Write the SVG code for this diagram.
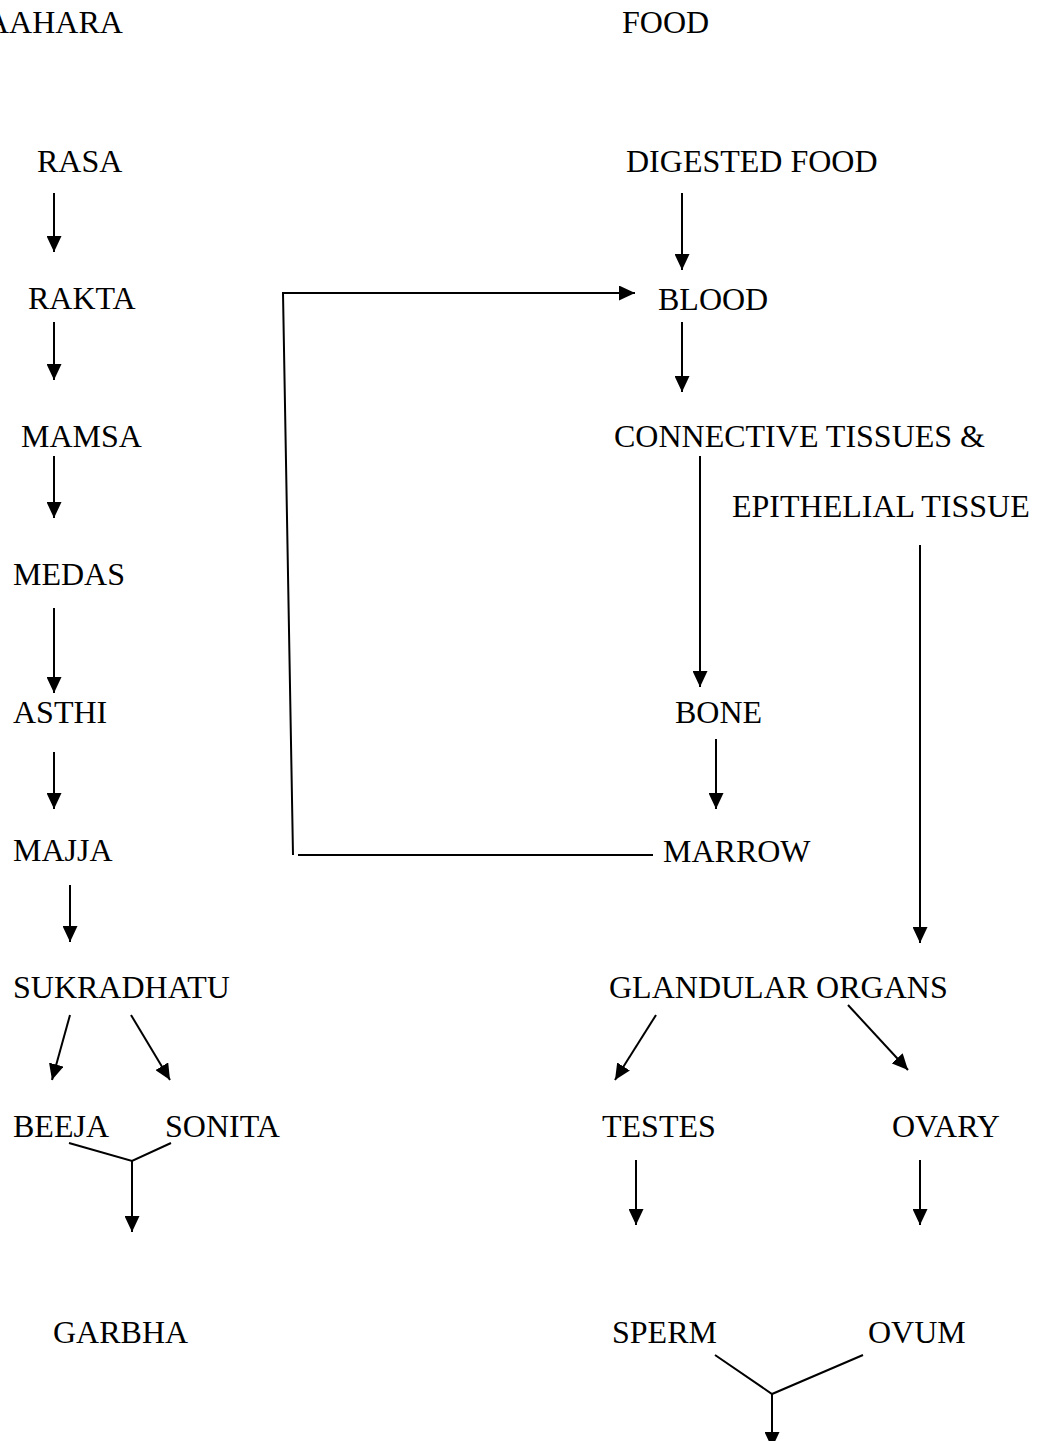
<svg xmlns="http://www.w3.org/2000/svg" width="1037" height="1441" viewBox="0 0 1037 1441">
<style>
text{font-family:"Liberation Serif","Times New Roman",serif;font-size:32px;fill:#000}
.c line,.c polyline{stroke:#000;stroke-width:2;fill:none}
.c .a{marker-end:url(#ah)}
</style>
<defs>
<marker id="ah" markerUnits="userSpaceOnUse" markerWidth="17" markerHeight="15" refX="16" refY="7.5" orient="auto">
<path d="M0,0 L16,7.5 L0,15 z" fill="#000"/>
</marker>
</defs>
<rect width="1037" height="1441" fill="#fff"/>
<g id="n-aahara"><text x="-14" y="33">AAHARA</text></g>
<g id="n-food"><text x="622" y="33">FOOD</text></g>
<g id="n-rasa"><text x="37" y="172">RASA</text></g>
<g id="n-rakta"><text x="28" y="309">RAKTA</text></g>
<g id="n-mamsa"><text x="21" y="447">MAMSA</text></g>
<g id="n-medas"><text x="13" y="585">MEDAS</text></g>
<g id="n-asthi"><text x="13" y="723">ASTHI</text></g>
<g id="n-majja"><text x="13" y="861">MAJJA</text></g>
<g id="n-sukradhatu"><text x="13" y="998">SUKRADHATU</text></g>
<g id="n-beeja"><text x="13" y="1137">BEEJA</text></g>
<g id="n-sonita"><text x="165" y="1137">SONITA</text></g>
<g id="n-garbha"><text x="53" y="1343">GARBHA</text></g>
<g id="n-digested"><text x="626" y="172">DIGESTED FOOD</text></g>
<g id="n-blood"><text x="658" y="310">BLOOD</text></g>
<g id="n-connective"><text x="614" y="447">CONNECTIVE TISSUES &amp;</text></g>
<g id="n-epithelial"><text x="732" y="517">EPITHELIAL TISSUE</text></g>
<g id="n-bone"><text x="675" y="723">BONE</text></g>
<g id="n-marrow"><text x="663" y="862">MARROW</text></g>
<g id="n-glandular"><text x="609" y="998">GLANDULAR ORGANS</text></g>
<g id="n-testes"><text x="602" y="1137">TESTES</text></g>
<g id="n-ovary"><text x="892" y="1137">OVARY</text></g>
<g id="n-sperm"><text x="612" y="1343">SPERM</text></g>
<g id="n-ovum"><text x="868" y="1343">OVUM</text></g>
<g id="connectors" class="c">
<line class="a" x1="54" y1="193" x2="54" y2="252"/>
<line class="a" x1="54" y1="322" x2="54" y2="380"/>
<line class="a" x1="54" y1="456" x2="54" y2="518"/>
<line class="a" x1="54" y1="608" x2="54" y2="693"/>
<line class="a" x1="54" y1="752" x2="54" y2="809"/>
<line class="a" x1="70" y1="885" x2="70" y2="942"/>
<line class="a" x1="70" y1="1015" x2="52" y2="1080"/>
<line class="a" x1="131" y1="1015" x2="170" y2="1080"/>
<polyline points="69,1143 132,1161 171,1143"/>
<line class="a" x1="132" y1="1161" x2="132" y2="1232"/>
<line class="a" x1="682" y1="193" x2="682" y2="270"/>
<line class="a" x1="682" y1="322" x2="682" y2="392"/>
<line class="a" x1="700" y1="456" x2="700" y2="687"/>
<line class="a" x1="716" y1="739" x2="716" y2="809"/>
<line class="a" x1="920" y1="545" x2="920" y2="943"/>
<line class="a" x1="656" y1="1015" x2="615" y2="1080"/>
<line class="a" x1="848" y1="1005" x2="908" y2="1070"/>
<line class="a" x1="636" y1="1160" x2="636" y2="1225"/>
<line class="a" x1="920" y1="1160" x2="920" y2="1225"/>
<polyline points="715,1355 772,1394 863,1355"/>
<line class="a" x1="772" y1="1394" x2="772" y2="1448"/>
<polyline class="a" points="293,855 283,293 635,293"/>
<line x1="298" y1="855" x2="653" y2="855"/>
</g>
</svg>
